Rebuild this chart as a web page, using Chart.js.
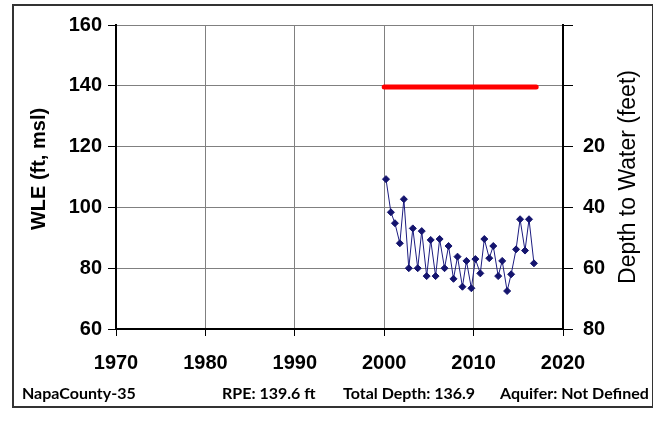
<!DOCTYPE html>
<html>
<head>
<meta charset="utf-8">
<script src="https://cdn.jsdelivr.net/npm/chart.js@4"></script>
<style>
  body { margin: 0; background: #fff; }
  #wrap { width: 653px; height: 423px; position: relative; }
</style>
</head>
<body>
<div id="wrap"><canvas id="myChart"></canvas></div>
<script>
// water level elevation, spring / fall readings
const years = [
  2000.2, 2000.75, 2001.2, 2001.75, 2002.2, 2002.75, 2003.2, 2003.75,
  2004.2, 2004.75, 2005.2, 2005.75, 2006.2, 2006.75, 2007.2, 2007.75,
  2008.2, 2008.75, 2009.2, 2009.75, 2010.2, 2010.75, 2011.2, 2011.75,
  2012.2, 2012.75, 2013.2, 2013.75, 2014.2, 2014.75, 2015.2, 2015.75,
  2016.2, 2016.75,
];
const wle = [
  109.3, 98.4, 94.8, 88.2, 102.7, 80.0, 93.1, 80.0,
  92.2, 77.4, 89.3, 77.4, 89.6, 80.0, 87.3, 76.5,
  83.8, 73.9, 82.4, 73.4, 83.0, 78.3, 89.6, 83.3,
  87.3, 77.4, 82.4, 72.5, 78.0, 86.2, 96.1, 85.8,
  96.1, 81.6,
];
const rpeYears = [2000, 2017];
const rpe = 139.6;
const xTicks = [1970, 1980, 1990, 2000, 2010, 2020];
const wleTicks = [60, 80, 100, 120, 140, 160];
const depthTicks = [-20, 0, 20, 40, 60, 80];

const tickFont = { family: "Arial, 'Liberation Sans'", size: 20, weight: "bold" };

const extras = {
  id: "extras",
  afterDraw(chart) {
    const c = chart.ctx;
    c.save();
    c.fillStyle = "#000";
    c.textAlign = "center";
    c.textBaseline = "middle";
    // axis titles, both read bottom to top
    c.font = "bold 20px Arial, 'Liberation Sans'";
    c.translate(39, 169);
    c.rotate(-Math.PI / 2);
    c.fillText("WLE (ft, msl)", 0, 0);
    c.setTransform(1, 0, 0, 1, 0, 0);
    c.font = "23px Arial, 'Liberation Sans'";
    c.translate(629, 177);
    c.rotate(-Math.PI / 2);
    c.fillText("Depth to Water (feet)", 0, 0);
    c.setTransform(1, 0, 0, 1, 0, 0);
    // footer
    c.font = "bold 16px Lato";
    c.textAlign = "left";
    c.textBaseline = "alphabetic";
    c.fillText("NapaCounty-35", 22, 399);
    c.fillText("RPE: " + rpe + " ft", 222, 399);
    c.fillText("Total Depth: 136.9", 343, 399);
    c.fillText("Aquifer: Not Defined", 500, 399);
    // frame
    c.strokeStyle = "#333";
    c.lineWidth = 2;
    c.strokeRect(13, 5, 640, 402);
    c.restore();
  },
};

const ctx = document.getElementById("myChart").getContext("2d");
let chart = new Chart(ctx, {
  type: "line",
  data: {
    datasets: [
      {
        label: "RPE",
        data: rpeYears.map((x) => ({ x: x, y: rpe })),
        borderColor: "#ff0000",
        borderWidth: 5,
        pointRadius: 0,
        borderCapStyle: "round",
        yAxisID: "y",
      },
      {
        label: "WLE",
        data: years.map((x, i) => ({ x: x, y: wle[i] })),
        borderColor: "#1c1c80",
        borderWidth: 1,
        pointStyle: "rectRot",
        pointRadius: 3.5,
        pointBackgroundColor: "#14146e",
        pointBorderColor: "#14146e",
        pointBorderWidth: 1,
        tension: 0,
        yAxisID: "y",
      },
    ],
  },
  plugins: [extras],
  options: {
    responsive: true,
    maintainAspectRatio: false,
    animation: false,
    layout: { padding: { top: 25, left: 0, right: 0, bottom: 0 } },
    plugins: { legend: { display: false }, tooltip: { enabled: false } },
    scales: {
      x: {
        type: "linear",
        min: 1970,
        max: 2020,
        afterBuildTicks: (s) => { s.ticks = xTicks.map((v) => ({ value: v })); },
        afterFit: (s) => { s.height = 94; },
        ticks: {
          font: tickFont,
          color: "#000",
          padding: 15,
          maxRotation: 0,
          callback: (v) => String(v),
        },
        grid: { color: "#808080", lineWidth: 1, tickColor: "#000", tickLength: 7 },
        border: { color: "#000", width: 2 },
      },
      y: {
        position: "left",
        min: 60,
        max: 160,
        afterBuildTicks: (s) => { s.ticks = wleTicks.map((v) => ({ value: v })); },
        afterFit: (s) => { s.width = 116; },
        ticks: { font: tickFont, color: "#000", padding: 6 },
        grid: { color: "#808080", lineWidth: 1, tickColor: "#000", tickLength: 8 },
        border: { color: "#000", width: 2 },
      },
      y2: {
        position: "right",
        min: -20,
        max: 80,
        reverse: true,
        afterBuildTicks: (s) => { s.ticks = depthTicks.map((v) => ({ value: v })); },
        afterFit: (s) => { s.width = 90; },
        ticks: {
          font: tickFont,
          color: "#000",
          padding: 10,
          callback: (v) => (v >= 20 ? v : ""),
        },
        grid: { drawOnChartArea: false, tickColor: "#000", tickLength: 10 },
        border: { color: "#000", width: 2 },
      },
    },
  },
});
</script>
</body>
</html>
